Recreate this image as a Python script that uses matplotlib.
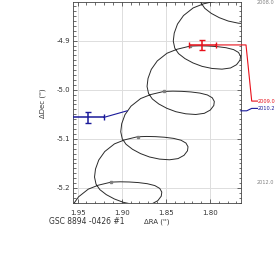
import matplotlib
matplotlib.use("Agg")
import matplotlib.pyplot as plt
from matplotlib.ticker import MultipleLocator
import matplotlib.transforms as mtransforms
import numpy as np

plt.rcParams['axes.unicode_minus'] = False
plt.rcParams['font.family'] = ['DejaVu Sans']

# yearly positions of the background-star track (arcsec)
years = [2008.0, 2009.0, 2010.0, 2011.0, 2012.0, 2013.0]
year_ra = [1.7929, 1.8226, 1.8523, 1.8821, 1.9118, 1.9415]
year_dec = [-4.8190, -4.9112, -5.0035, -5.0957, -5.1880, -5.2802]

loop_dra = [-0.0150, -0.0036, 0.0074, 0.0142, 0.0179, 0.0190, 0.0173, 0.0130,
            0.0057, -0.0034, -0.0136, -0.0249, -0.0362, -0.0459, -0.0527,
            -0.0566, -0.0572, -0.0549, -0.0493, -0.0408, -0.0306, -0.0204,
            -0.0102, 0.0]
loop_ddec = [0.0859, 0.0778, 0.0622, 0.0449, 0.0265, 0.0102, -0.0041, -0.0153,
             -0.0255, -0.0343, -0.0412, -0.0455, -0.0469, -0.0445, -0.0378,
             -0.0286, -0.0204, -0.0129, -0.0071, -0.0033, -0.0010, 0.0002,
             0.0006, 0.0]

# measurements
meas_labels = ['2009.0', '2010.2']
meas_ra = [1.8087, 1.9382]
meas_dec = [-4.9088, -5.0563]
meas_ra_err = [0.015, 0.018]
meas_dec_err = [0.010, 0.011]
meas_colors = ['#e8101a', '#1a1a9a']
# predicted track position at 2010.2
pred_ra_2010 = 1.8938
pred_dec_2010 = -5.0429
# label heights on the right side
label_dec = [-5.0231, -5.0380]

xlim = (1.9555, 1.7652)
ylim = (-5.2312, -4.8204)

fig = plt.figure(figsize=(2.77, 2.69), dpi=100)
ax = fig.add_axes([0.2625, 0.2442, 0.6065, 0.7502])

ra_track = np.concatenate([r + np.array(loop_dra) for r in year_ra])
dec_track = np.concatenate([d + np.array(loop_ddec) for d in year_dec])
ax.plot(ra_track, dec_track, color='#2a2a2a', lw=0.7, zorder=3)
ax.plot(year_ra, year_dec, 's', ms=1.8, color='#808080', zorder=4)

for i in range(2):
    ax.errorbar(meas_ra[i], meas_dec[i], xerr=meas_ra_err[i], yerr=meas_dec_err[i],
                fmt='none', ecolor=meas_colors[i], elinewidth=1.1, capsize=2.2,
                capthick=1.0, zorder=5)

# blue: error bar end to predicted position
ax.plot([meas_ra[1] - meas_ra_err[1], pred_ra_2010], [meas_dec[1], pred_dec_2010],
        color=meas_colors[1], lw=0.8, zorder=5)

ax.set_xlim(*xlim)
ax.set_ylim(*ylim)

def fx(x):
    return (x - xlim[0]) / (xlim[1] - xlim[0])

trans = mtransforms.blended_transform_factory(ax.transAxes, ax.transData)
# red connector
ax.plot([fx(meas_ra[0] - meas_ra_err[0]), 1.0, 1.0315, 1.0655, 1.100],
        [meas_dec[0], meas_dec[0], meas_dec[0], label_dec[0], label_dec[0]],
        transform=trans, clip_on=False, color=meas_colors[0], lw=0.8, zorder=5)
# blue connector
ax.plot([1.0, 1.0357, 1.0655, 1.100],
        [pred_dec_2010, pred_dec_2010, label_dec[1], label_dec[1]],
        transform=trans, clip_on=False, color=meas_colors[1], lw=0.8, zorder=5)

for i in range(2):
    ax.text(1.103, label_dec[i], meas_labels[i], transform=trans, color=meas_colors[i],
            fontsize=3.6, va='center', ha='left')
ax.text(1.095, -4.823, '2008.0', transform=trans, color='#808080', fontsize=3.6,
        va='center', ha='left')
ax.text(1.095, -5.189, '2012.0', transform=trans, color='#808080', fontsize=3.6,
        va='center', ha='left')

ax.xaxis.set_major_locator(MultipleLocator(0.05))
ax.xaxis.set_minor_locator(MultipleLocator(0.01))
ax.yaxis.set_major_locator(MultipleLocator(0.1))
ax.yaxis.set_minor_locator(MultipleLocator(0.01))
ax.xaxis.set_major_formatter(plt.FormatStrFormatter('%.2f'))
ax.yaxis.set_major_formatter(plt.FormatStrFormatter('%.1f'))
ax.tick_params(which='both', direction='in', top=True, right=True,
               width=0.5, color='#333333', labelsize=5, labelcolor='#333333')
ax.tick_params(which='major', length=3.2)
ax.tick_params(which='minor', length=1.8)
ax.tick_params(axis='x', pad=4.5)
ax.tick_params(axis='y', pad=2)
ax.grid(True, which='major', color='#dddddd', lw=0.7, zorder=0)
ax.set_axisbelow(True)
for s in ax.spines.values():
    s.set_linewidth(0.6)
    s.set_color('#444444')

fig.text(0.565, 0.175, "\u0394RA ('')", fontsize=5, color='#333333', ha='center', va='center')
fig.text(0.177, 0.175, "GSC 8894 -0426 #1", fontsize=5.5, color='#333333', ha='left', va='center')
fig.text(0.156, 0.617, "\u0394Dec ('')", fontsize=5, color='#333333', ha='center', va='center',
         rotation=90)

fig.savefig('out.png', dpi=100)
